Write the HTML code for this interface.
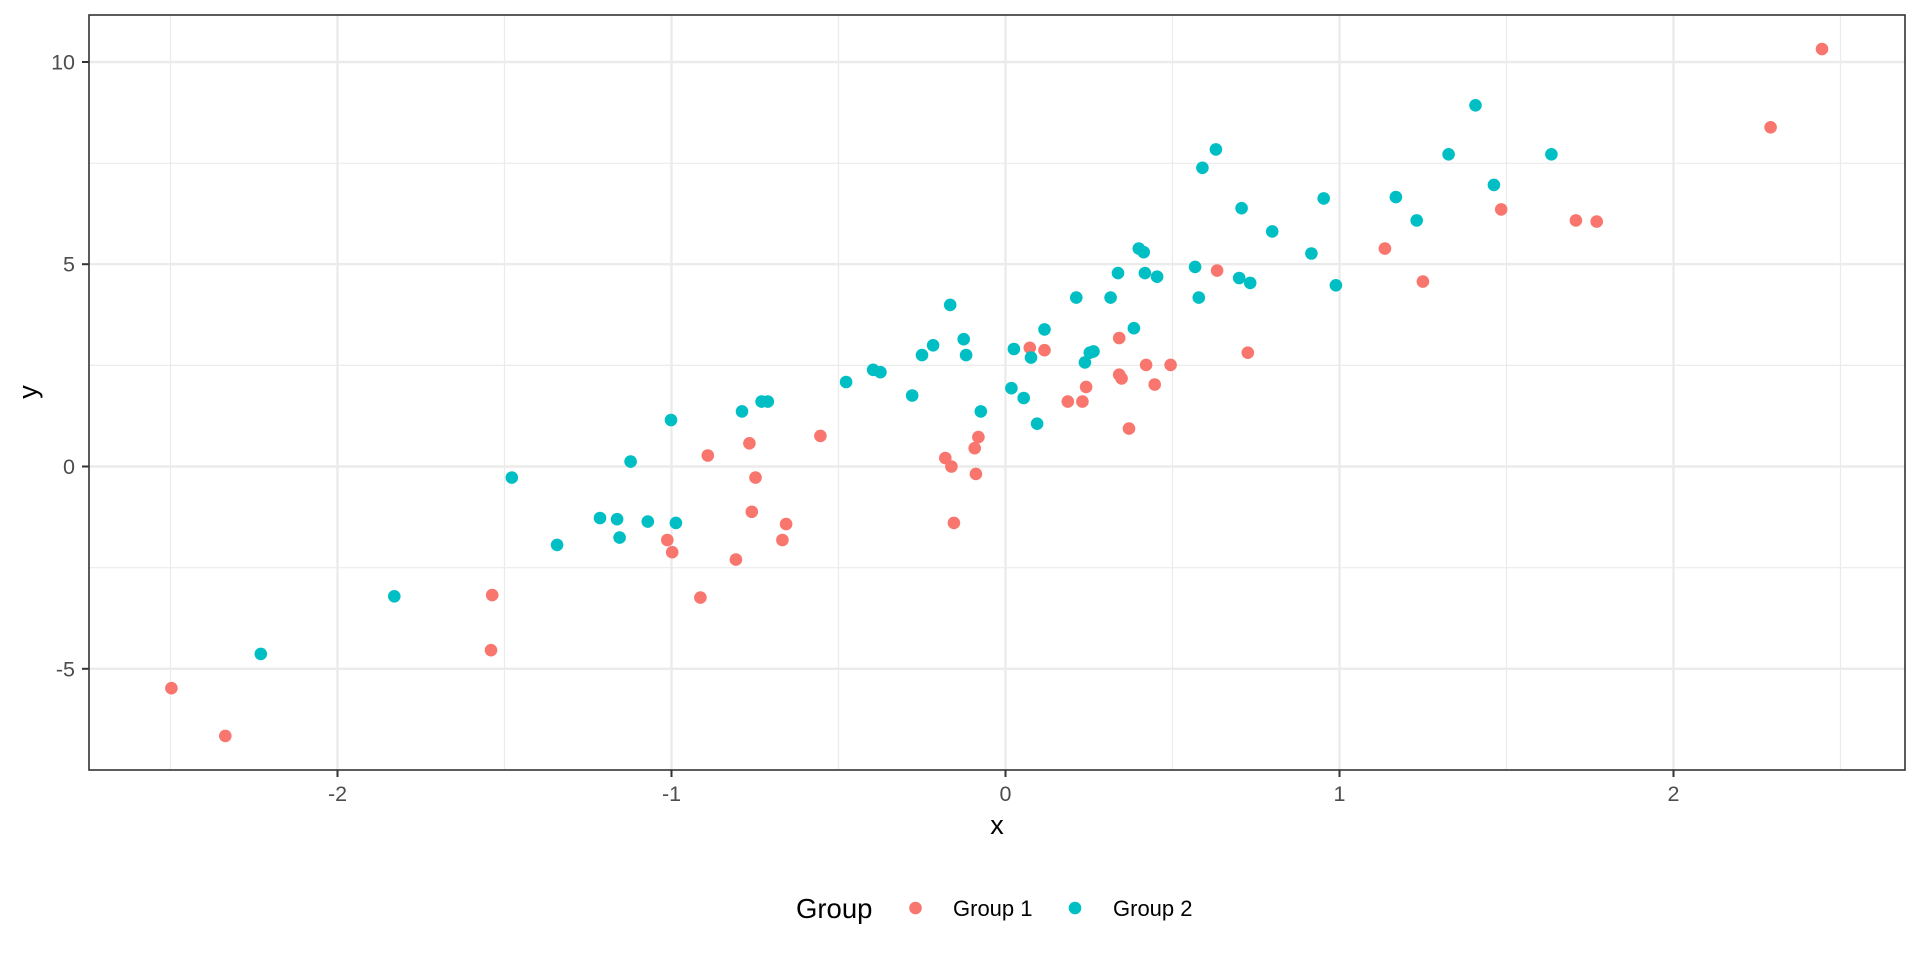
<!DOCTYPE html>
<html><head><meta charset="utf-8"><style>html,body{margin:0;padding:0;background:#fff}svg{display:block}</style></head>
<body>
<svg id="s" width="1920" height="960" xmlns="http://www.w3.org/2000/svg" font-family="Liberation Sans, Arial, sans-serif">
<rect width="1920" height="960" fill="#fff"/>
<g stroke="#ebebeb" stroke-width="1.2">
<line x1="89" x2="1905" y1="163.3" y2="163.3"/><line x1="89" x2="1905" y1="365.4" y2="365.4"/><line x1="89" x2="1905" y1="567.7" y2="567.7"/>
<line x1="170.5" x2="170.5" y1="15" y2="770"/><line x1="504.5" x2="504.5" y1="15" y2="770"/><line x1="838.5" x2="838.5" y1="15" y2="770"/><line x1="1172.5" x2="1172.5" y1="15" y2="770"/><line x1="1506.5" x2="1506.5" y1="15" y2="770"/><line x1="1840.5" x2="1840.5" y1="15" y2="770"/>
</g>
<g stroke="#ebebeb" stroke-width="2.4">
<line x1="89" x2="1905" y1="62" y2="62"/><line x1="89" x2="1905" y1="264.2" y2="264.2"/><line x1="89" x2="1905" y1="466.5" y2="466.5"/><line x1="89" x2="1905" y1="668.8" y2="668.8"/>
<line x1="337.5" x2="337.5" y1="15" y2="770"/><line x1="671.5" x2="671.5" y1="15" y2="770"/><line x1="1005.5" x2="1005.5" y1="15" y2="770"/><line x1="1339.5" x2="1339.5" y1="15" y2="770"/><line x1="1673.5" x2="1673.5" y1="15" y2="770"/>
</g>
<g id="pts"></g>
<rect x="89" y="15" width="1816" height="755" fill="none" stroke="#333" stroke-width="1.6"/>
<g stroke="#333" stroke-width="2">
<line x1="82" x2="89" y1="62" y2="62"/><line x1="82" x2="89" y1="264.2" y2="264.2"/><line x1="82" x2="89" y1="466.5" y2="466.5"/><line x1="82" x2="89" y1="668.8" y2="668.8"/>
<line x1="337.5" x2="337.5" y1="770" y2="777"/><line x1="671.5" x2="671.5" y1="770" y2="777"/><line x1="1005.5" x2="1005.5" y1="770" y2="777"/><line x1="1339.5" x2="1339.5" y1="770" y2="777"/><line x1="1673.5" x2="1673.5" y1="770" y2="777"/>
</g>
<g fill="#4d4d4d" font-size="21.5" text-anchor="end">
<text x="75" y="69.5">10</text><text x="75" y="271.7">5</text><text x="75" y="474">0</text><text x="75" y="676.3">-5</text>
</g>
<g fill="#4d4d4d" font-size="21.5" text-anchor="middle">
<text x="337.5" y="801">-2</text><text x="671.5" y="801">-1</text><text x="1005.5" y="801">0</text><text x="1339.5" y="801">1</text><text x="1673.5" y="801">2</text>
</g>
<text x="997" y="834" font-size="27" text-anchor="middle" fill="#000">x</text>
<text transform="translate(37,392) rotate(-90)" font-size="27" text-anchor="middle" fill="#000">y</text>
<text x="796" y="918" font-size="27.5" fill="#000">Group</text>
<circle cx="915.5" cy="908" r="6.3" fill="#F8766D"/>
<text x="953" y="916" font-size="22" fill="#000">Group 1</text>
<circle cx="1075" cy="908" r="6.3" fill="#00BFC4"/>
<text x="1113" y="916" font-size="22" fill="#000">Group 2</text>
</svg>
<script>
var red=[[140,562],[184,601],[402,486],[401,531],[545,441],[549,451],[572,488],[578,372],[601,457],[612,362],[614,418],[617,390],[639,441],[642,428],[670,356],[772,374],[777,381],[796,366],[797,387],[799,357],[779,427],[841,284],[853,286],[872,328],[884,328],[887,316],[914,276],[914,306],[916,309],[922,350],[936,298],[943,314],[956,298],[994,221],[1019,288],[1131,203],[1162,230],[1226,171],[1287,180],[1304,181],[1446,104],[1488,40]];
var teal=[[213,534],[322,487],[418,390],[455,445],[490,423],[504,424],[506,439],[515,377],[529,426],[548,343],[552,427],[606,336],[622,328],[627,328],[691,312],[713,302],[719,304],[745,323],[753,290],[762,282],[776,249],[787,277],[789,290],[801,336],[826,317],[828,285],[836,325],[842,292],[847,346],[853,269],[879,243],[886,296],[890,288],[893,287],[907,243],[913,223],[926,268],[930,203],[934,206],[935,223],[945,226],[976,218],[979,243],[982,137],[993,122],[1012,227],[1014,170],[1021,231],[1039,189],[1071,207],[1081,162],[1091,233],[1140,161],[1157,180],[1183,126],[1205,86],[1220,151],[1267,126]];
var g=document.getElementById('pts'),k=1920/1568,h='';
function add(a,c){a.forEach(function(p){h+='<circle cx="'+(p[0]*k).toFixed(1)+'" cy="'+(p[1]*k).toFixed(1)+'" r="6.3" fill="'+c+'"/>';});}
add(red,'#F8766D');add(teal,'#00BFC4');
g.innerHTML=h;
</script>
</body></html>
